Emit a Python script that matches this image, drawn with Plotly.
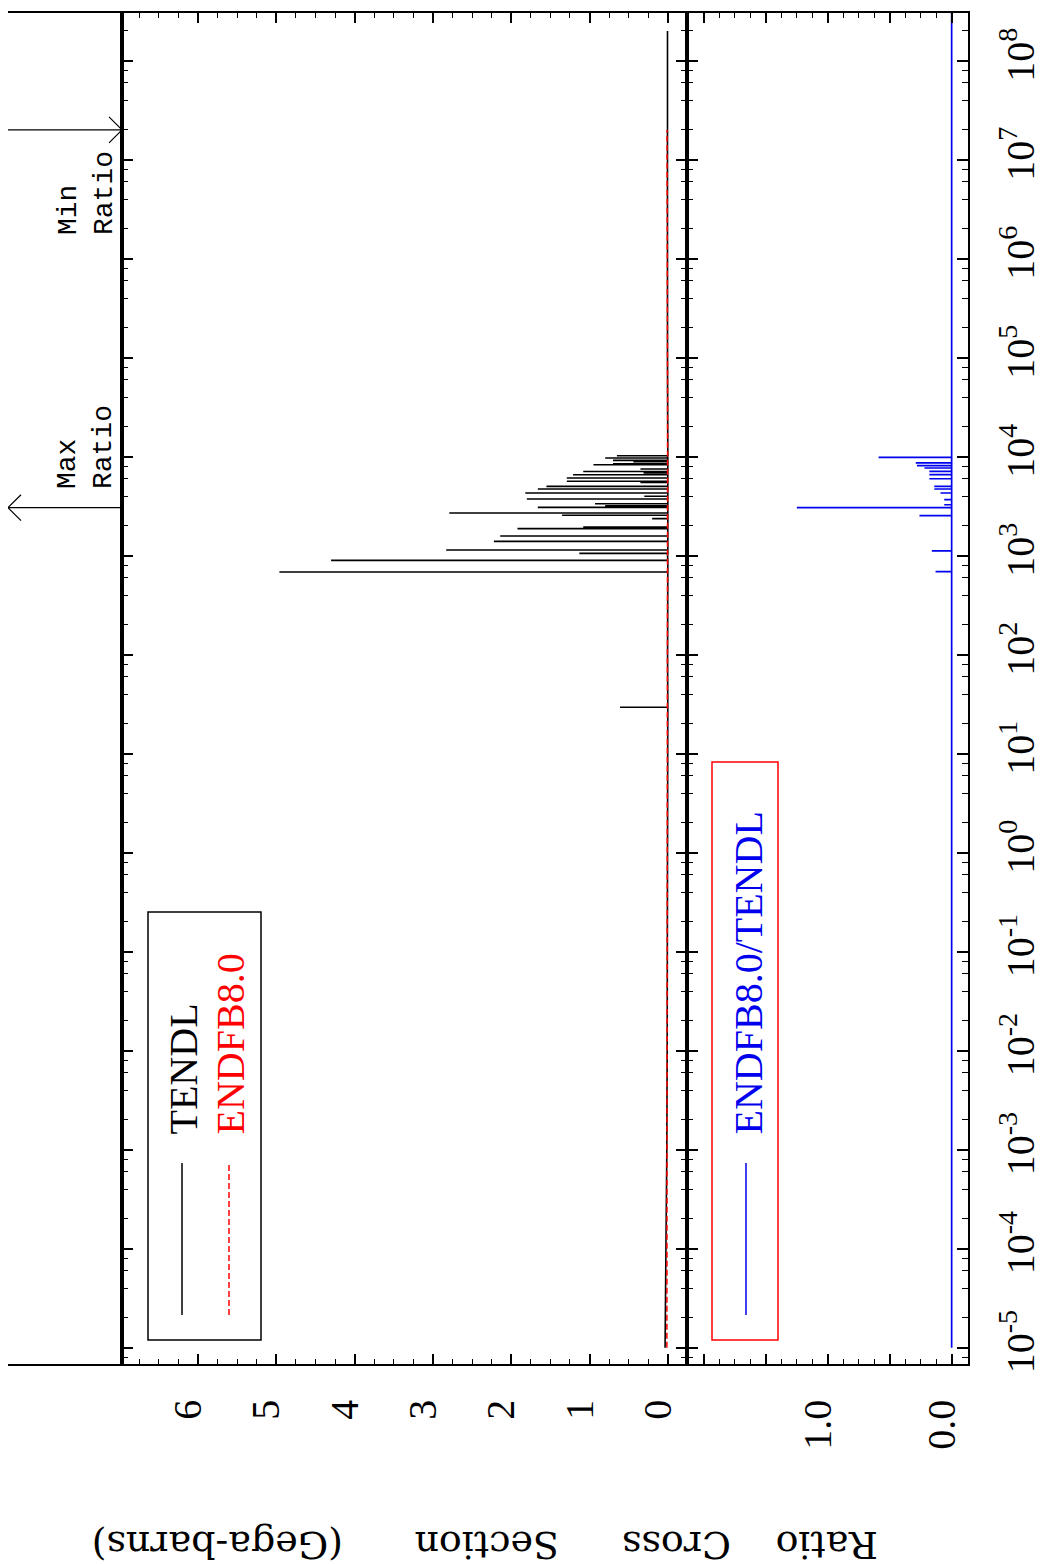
import plotly.graph_objects as go

# TENDL background (eV, Gb) and resolved resonance peaks
bg_energy = [1e-5, 1e-4, 1e-3, 1e-2, 1e-1, 1.0, 10.0, 100.0, 1e3, 1e4, 1e5, 1e6, 1e7, 2e7, 1e8, 2e8]
tendl_bg = [0.035, 0.022, 0.013, 0.008, 0.005, 0.004, 0.003, 0.003, 0.003, 0.003, 0.004, 0.006, 0.010, 0.010, 0.006, 0.004]
tendl_res_energy = [29.4, 685, 897, 1056, 1140, 1395, 1580, 1875, 1950, 2370, 2560, 2700, 3075, 3200, 3350,
                    3740, 3980, 4300, 4720, 5020, 5510, 5640, 6090, 6580, 6850, 7100, 7520, 8300, 8490,
                    8900, 9180, 9700, 10230]
tendl_res_peak = [0.61, 4.96, 4.30, 1.13, 2.83, 2.22, 2.14, 1.92, 1.08, 0.20, 1.35, 2.79, 1.66, 0.80, 0.93,
                  1.80, 0.30, 1.82, 1.66, 1.55, 0.35, 1.29, 1.29, 1.21, 0.31, 1.08, 0.35, 0.95, 0.70,
                  0.44, 0.70, 0.80, 0.65]

# ENDF/B-VIII.0 (stops at 20 MeV)
endf_energy = [1e-5, 1e-4, 1e-3, 1e-2, 1e-1, 1.0, 10.0, 100.0, 1e3, 1e4, 1e5, 1e6, 1e7, 2e7]
endf_bg = [0.012, 0.010, 0.008, 0.006, 0.005, 0.004, 0.003, 0.003, 0.003, 0.003, 0.004, 0.006, 0.010, 0.010]

# ratio ENDFB8.0/TENDL
ratio_bg_energy = [1e-5, 3.2e8]
ratio_bg = [0.0, 0.0]
ratio_res_energy = [689, 1120, 2535, 3055, 3270, 3680, 4300, 4720, 5020, 5990, 6580, 7100, 7690, 8110, 8650, 9840]
ratio_res_peak = [0.13, 0.16, 0.26, 1.25, 0.06, 0.06, 0.09, 0.14, 0.14, 0.18, 0.18, 0.18, 0.22, 0.28, 0.29, 0.59]

min_ratio_energy = 2.0e7

decades = list(range(-5, 9))
xs_ticks = [0, 1, 2, 3, 4, 5, 6]
ratio_ticks = [0, 0.5, 1.0, 1.5, 2.0]
ratio_ticktext = ["0.0", "", "1.0", "", ""]


def spike_series(bg_e, bg_v, res_e, res_v):
    pts = list(zip(bg_e, bg_v))
    for e, v in zip(res_e, res_v):
        pts += [(e, 0.0), (e, v), (e, 0.0)]
    pts.sort(key=lambda p: p[0])
    return [p[0] for p in pts], [p[1] for p in pts]


tendl_e, tendl_v = spike_series(bg_energy, tendl_bg, tendl_res_energy, tendl_res_peak)
ratio_e, ratio_v = spike_series(ratio_bg_energy, ratio_bg, ratio_res_energy, ratio_res_peak)
max_ratio_energy = ratio_res_energy[ratio_res_peak.index(max(ratio_res_peak))]

# page geometry (pixels on the screenshot) -> paper coords
# the html body adds an 8px margin, so the figure itself is drawn 8px up/left
W, H = 1046, 1564
BODY = 8
L, R, T, B = 8, 968, 13, 1364


def px(x):
    return (x - L) / (R - L)


def py(y):
    return (B - y) / (B - T)


serif = "Liberation Serif"
mono = "Liberation Mono"
blue = "#0000ee"

fig = go.Figure()
fig.add_trace(go.Scatter(x=tendl_v, y=tendl_e, xaxis="x", yaxis="y", mode="lines",
                         line=dict(color="black", width=1.6), name="TENDL"))
fig.add_trace(go.Scatter(x=endf_bg, y=endf_energy, xaxis="x", yaxis="y", mode="lines",
                         line=dict(color="red", width=1.5, dash="6px,3px"), name="ENDFB8.0"))
fig.add_trace(go.Scatter(x=ratio_v, y=ratio_e, xaxis="x2", yaxis="y2", mode="lines",
                         line=dict(color=blue, width=1.7), name="ENDFB8.0/TENDL"))

# max / min ratio arrows in the side band
dx, dl = 0.114, 10 ** 0.131
fig.add_trace(go.Scatter(x=[1, 0, None, dx, 0, dx],
                         y=[max_ratio_energy] * 3 + [max_ratio_energy * dl, max_ratio_energy, max_ratio_energy / dl],
                         xaxis="x3", yaxis="y3", mode="lines", line=dict(color="black", width=1.2)))
fig.add_trace(go.Scatter(x=[0, 1, None, 1 - dx, 1, 1 - dx],
                         y=[min_ratio_energy] * 3 + [min_ratio_energy * dl, min_ratio_energy, min_ratio_energy / dl],
                         xaxis="x3", yaxis="y3", mode="lines", line=dict(color="black", width=1.2)))

yrange = [-5.165, 8.482]
minor_e = [m * 10 ** n for n in range(-6, 9) for m in (2, 4, 6, 8)]
ybase = dict(type="log", range=yrange, tickvals=[10 ** n for n in decades], ticks="inside", ticklen=11,
             tickwidth=1.5, tickcolor="black", showline=True, linewidth=1.6, linecolor="black",
             mirror="ticks", showgrid=False, zeroline=False,
             minor=dict(tickvals=minor_e, ticks="inside", ticklen=6, tickwidth=1.2, tickcolor="black"))
xbase = dict(ticks="inside", ticklen=10, tickwidth=1.5, tickcolor="black", showline=True, linewidth=1.6,
             linecolor="black", mirror="ticks", showgrid=False, zeroline=False, tickangle=-90,
             tickfont=dict(family=serif, size=40, color="black"), ticklabelstandoff=18,
             ticklabelshift=10)

fig.update_layout(
    width=W, height=H,
    margin=dict(l=L - BODY, r=W - R + BODY, t=T - BODY, b=H - B + BODY, autoexpand=False),
    plot_bgcolor="white", paper_bgcolor="white",
    showlegend=False,
    font=dict(family=serif, color="black"),
    xaxis=dict(xbase, domain=[px(122), px(687)], range=[6.97, -0.245], anchor="y",
               tickvals=xs_ticks, ticktext=[str(v) for v in xs_ticks],
               minor=dict(dtick=0.25, tick0=0, ticks="inside", ticklen=5, tickwidth=1.2, tickcolor="black")),
    xaxis2=dict(xbase, domain=[px(687), 1], range=[2.137, -0.132], anchor="y2",
                tickvals=ratio_ticks, ticktext=ratio_ticktext,
                minor=dict(dtick=0.125, tick0=0, ticks="inside", ticklen=5, tickwidth=1.2, tickcolor="black")),
    xaxis3=dict(domain=[0, px(122)], range=[0, 1], anchor="y3", showline=True, linewidth=1.6,
                linecolor="black", mirror=True, ticks="", showticklabels=False, showgrid=False, zeroline=False),
    yaxis=dict(ybase, anchor="x", showticklabels=False),
    yaxis2=dict(ybase, anchor="x2", side="right", showticklabels=True,
                ticktext=[f"10<sup>{n}</sup>" for n in decades], tickangle=-90, ticklabelstandoff=16,
                tickfont=dict(family=serif, size=40, color="black")),
    yaxis3=dict(type="log", range=yrange, anchor="x3", showline=True, linewidth=1.6, linecolor="black",
                mirror=True, ticks="", showticklabels=False, showgrid=False, zeroline=False),
)

# legend boxes
fig.add_shape(type="rect", xref="paper", yref="paper", x0=px(148), x1=px(261), y0=py(1340), y1=py(912),
              line=dict(color="black", width=1.5))
fig.add_shape(type="line", xref="paper", yref="paper", x0=px(182), x1=px(182), y0=py(1315), y1=py(1163),
              line=dict(color="black", width=1.5))
fig.add_shape(type="line", xref="paper", yref="paper", x0=px(229), x1=px(229), y0=py(1315), y1=py(1163),
              line=dict(color="red", width=1.5, dash="6px,3px"))
fig.add_shape(type="rect", xref="paper", yref="paper", x0=px(712), x1=px(778), y0=py(1340), y1=py(762),
              line=dict(color="red", width=1.5))
fig.add_shape(type="line", xref="paper", yref="paper", x0=px(746), x1=px(746), y0=py(1315), y1=py(1163),
              line=dict(color=blue, width=1.5))

ann = [
    dict(text="TENDL", x=px(183), y=py(1137), color="black"),
    dict(text="ENDFB8.0", x=px(230), y=py(1137), color="red"),
    dict(text="ENDFB8.0/TENDL", x=px(748), y=py(1137), color=blue),
]
for a in ann:
    fig.add_annotation(text=a["text"], x=a["x"], y=a["y"], xref="paper", yref="paper", showarrow=False,
                       textangle=-90, xanchor="center", yanchor="bottom",
                       font=dict(family=serif, size=40, color=a["color"]))

for label, ybot in [("Max<br>Ratio", 491), ("Min<br>Ratio", 237)]:
    fig.add_annotation(text=label, x=px(86), y=py(ybot), xref="paper", yref="paper", showarrow=False,
                       textangle=-90, xanchor="center", yanchor="bottom", align="left",
                       font=dict(family=mono, size=28, color="black"))

# axis titles (upside down, as on the rotated page)
for word, cx in [("Ratio", 827), ("Cross", 677), ("Section", 487), ("(Gega-barns)", 218)]:
    fig.add_annotation(text=word, x=px(cx), y=py(1545), xref="paper", yref="paper", showarrow=False,
                       textangle=180, xanchor="center", yanchor="middle",
                       font=dict(family="DejaVu Serif", size=38, color="black"))

fig.write_html("out.html")
